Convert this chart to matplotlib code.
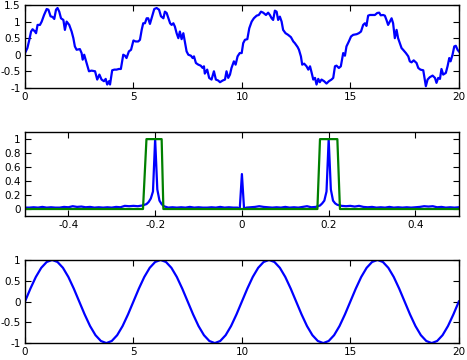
import numpy as np
import matplotlib
matplotlib.use('Agg')
import matplotlib.pyplot as plt
from matplotlib.ticker import FormatStrFormatter

# noisy signal
t_noisy = [0.0, 0.11, 0.2, 0.28, 0.35, 0.46, 0.51, 0.58, 0.69, 0.77, 0.88, 1.0, 1.08, 1.18, 1.27, 1.35,
           1.43, 1.5, 1.58, 1.66, 1.77, 1.84, 1.92, 2.04, 2.15, 2.23, 2.3, 2.38, 2.53, 2.61, 2.66, 2.73,
           2.84, 2.95, 3.07, 3.23, 3.33, 3.43, 3.53, 3.64, 3.72, 3.79, 3.87, 3.92,
           4.02, 4.12, 4.22, 4.33, 4.42, 4.53, 4.61, 4.68, 4.79, 4.89, 5.0, 5.1, 5.22, 5.3, 5.38, 5.45,
           5.53, 5.61, 5.68, 5.76, 5.87, 5.96, 6.07, 6.18, 6.27, 6.38, 6.45, 6.53, 6.61, 6.69, 6.76, 6.84,
           6.91, 6.99, 7.07, 7.14, 7.22, 7.3, 7.37, 7.45, 7.53,
           7.65, 7.73, 7.79, 7.88, 7.99, 8.1, 8.19, 8.25, 8.29, 8.4, 8.49, 8.6, 8.71, 8.8, 8.91, 8.99,
           9.11, 9.22, 9.29, 9.37, 9.45, 9.52, 9.63, 9.71, 9.8, 9.9, 9.99, 10.06, 10.14, 10.25, 10.34,
           10.45, 10.55, 10.68, 10.78, 10.88, 10.98, 11.11, 11.21, 11.29, 11.37, 11.44, 11.52, 11.6, 11.67,
           11.75, 11.83, 11.9, 12.01, 12.13, 12.26, 12.37, 12.44, 12.57, 12.63, 12.72, 12.78, 12.87, 12.98,
           13.06, 13.14, 13.21, 13.29, 13.37, 13.44, 13.52, 13.59, 13.67, 13.79, 13.9, 14.01, 14.13, 14.21,
           14.29, 14.36, 14.47, 14.56, 14.67, 14.75, 14.82, 14.93, 15.03, 15.13, 15.29, 15.39, 15.49,
           15.59, 15.67, 15.74, 15.82, 15.9, 16.02, 16.13, 16.24, 16.33, 16.4, 16.51, 16.59, 16.67, 16.74,
           16.82, 16.9, 16.97, 17.05, 17.13, 17.2, 17.28, 17.36, 17.43, 17.56, 17.67, 17.74, 17.82, 17.92,
           18.05, 18.13, 18.23, 18.36, 18.43, 18.48, 18.56, 18.66, 18.79, 18.9, 18.97, 19.05, 19.13, 19.2,
           19.28, 19.4, 19.48, 19.56, 19.62, 19.71, 19.79, 19.86, 19.94, 20.0]
y_noisy = [0.05, 0.2, 0.45, 0.7, 0.77, 0.7, 0.65, 0.9, 0.9, 1.0, 1.2, 1.38, 1.36, 1.16, 1.14, 1.08,
           1.36, 1.41, 1.3, 1.1, 1.05, 0.75, 1.0, 0.9, 0.7, 0.5, 0.25, 0.15, 0.17, 0.05, -0.15, 0.0,
           -0.25, -0.5, -0.48, -0.5, -0.75, -0.6, -0.75, -0.8, -0.73, -0.9, -0.8, -0.9,
           -0.47, -0.45, -0.45, -0.43, -0.43, 0.0, -0.03, -0.1, 0.1, 0.15, 0.43, 0.4, 0.4, 0.45, 0.75, 0.95,
           0.95, 1.1, 1.1, 0.93, 1.18, 1.38, 1.41, 1.36, 1.16, 1.1, 1.3, 1.26, 1.1, 0.95, 0.9, 0.95,
           0.85, 0.65, 0.5, 0.7, 0.47, 0.65, 0.4, 0.1, 0.0,
           -0.03, -0.1, -0.05, -0.25, -0.3, -0.33, -0.4, -0.35, -0.57, -0.45, -0.7, -0.75, -0.5, -0.75, -0.78, -0.83,
           -0.78, -0.75, -0.5, -0.7, -0.6, -0.4, -0.2, -0.3, -0.05, 0.05, 0.05, 0.35, 0.45, 0.47, 0.8,
           1.0, 1.1, 1.18, 1.2, 1.3, 1.27, 1.2, 1.27, 1.2, 1.1, 1.05, 1.33, 1.3, 1.05,
           1.15, 1.0, 0.75, 0.65, 0.6, 0.53, 0.4, 0.35, 0.23, 0.15, -0.05, -0.3, -0.27, -0.35,
           -0.45, -0.35, -0.53, -0.75, -0.7, -0.9, -0.73, -0.83, -0.75, -0.8, -0.87, -0.8, -0.75, -0.7,
           -0.35, -0.33, -0.4, -0.35, 0.05, -0.03, 0.25, 0.4, 0.55, 0.6, 0.62, 0.65, 0.7,
           0.9, 0.95, 0.87, 1.18, 1.2, 1.2, 1.2, 1.26, 1.27, 1.19, 1.2, 1.18, 1.04, 0.9,
           1.0, 1.1, 0.95, 0.5, 0.75, 0.5, 0.35, 0.2, 0.15, 0.05, -0.05, -0.2, -0.23, -0.17,
           -0.25, -0.4, -0.45, -0.47, -0.75, -0.95, -0.75, -0.68, -0.63, -0.7, -0.85, -0.7, -0.73, -0.43,
           -0.6, -0.55, -0.35, -0.1, -0.2, 0.0, 0.25, 0.27, 0.15, 0.1]

# spectrum
freq = [-0.5, -0.49, -0.48, -0.47, -0.46, -0.45, -0.44, -0.43, -0.42, -0.41, -0.4, -0.39, -0.38, -0.37,
        -0.36, -0.35, -0.34, -0.33, -0.32, -0.31, -0.3, -0.29, -0.28, -0.27, -0.26, -0.25, -0.24, -0.23,
        -0.22, -0.215, -0.21, -0.205, -0.2, -0.195, -0.19, -0.185, -0.18, -0.17, -0.16, -0.15, -0.14,
        -0.13, -0.12, -0.11, -0.1, -0.09, -0.08, -0.07, -0.06, -0.05, -0.04, -0.03, -0.02, -0.01, -0.005,
        0.0, 0.005, 0.01, 0.02, 0.03, 0.04, 0.05, 0.06, 0.07, 0.08, 0.09, 0.1, 0.11, 0.12, 0.13, 0.14,
        0.15, 0.16, 0.17, 0.18, 0.185, 0.19, 0.195, 0.2, 0.205, 0.21, 0.215, 0.22, 0.23, 0.24, 0.25,
        0.26, 0.27, 0.28, 0.29, 0.3, 0.31, 0.32, 0.33, 0.34, 0.35, 0.36, 0.37, 0.38, 0.39, 0.4, 0.41,
        0.42, 0.43, 0.44, 0.45, 0.46, 0.47, 0.48, 0.49, 0.5]
amp = [0.02, 0.02, 0.025, 0.02, 0.03, 0.02, 0.025, 0.02, 0.02, 0.03, 0.025, 0.04, 0.03, 0.035,
       0.025, 0.03, 0.02, 0.025, 0.02, 0.025, 0.02, 0.03, 0.025, 0.045, 0.04, 0.045, 0.04, 0.05,
       0.07, 0.1, 0.15, 0.25, 1.0, 0.28, 0.12, 0.07, 0.04, 0.02, 0.025, 0.02, 0.025,
       0.02, 0.03, 0.02, 0.025, 0.02, 0.02, 0.025, 0.02, 0.03, 0.02, 0.025, 0.02, 0.02, 0.0,
       0.5, 0.0, 0.02, 0.025, 0.03, 0.04, 0.03, 0.025, 0.02, 0.025, 0.02, 0.03, 0.02, 0.025, 0.02, 0.03,
       0.04, 0.025, 0.03, 0.05, 0.08, 0.12, 0.25, 1.0, 0.28, 0.12, 0.08, 0.06, 0.045, 0.04, 0.045,
       0.035, 0.045, 0.03, 0.025, 0.03, 0.02, 0.025, 0.02, 0.03, 0.02, 0.025, 0.02, 0.025, 0.02, 0.025, 0.03,
       0.04, 0.035, 0.04, 0.025, 0.03, 0.02, 0.025, 0.02, 0.025]

# band-pass mask
mask_f = [-0.5, -0.228, -0.22, -0.185, -0.181, 0.174, 0.18, 0.22, 0.226, 0.5]
mask_v = [0, 0, 1, 1, 0, 0, 1, 1, 0, 0]

# filtered signal
t_clean = [i * 0.25 for i in range(81)]
y_clean = [0.0, 0.31, 0.59, 0.81, 0.95, 1.0, 0.95, 0.81, 0.59, 0.31,
           0.0, -0.31, -0.59, -0.81, -0.95, -1.0, -0.95, -0.81, -0.59, -0.31,
           0.0, 0.31, 0.59, 0.81, 0.95, 1.0, 0.95, 0.81, 0.59, 0.31,
           0.0, -0.31, -0.59, -0.81, -0.95, -1.0, -0.95, -0.81, -0.59, -0.31,
           0.0, 0.31, 0.59, 0.81, 0.95, 1.0, 0.95, 0.81, 0.59, 0.31,
           0.0, -0.31, -0.59, -0.81, -0.95, -1.0, -0.95, -0.81, -0.59, -0.31,
           0.0, 0.31, 0.59, 0.81, 0.95, 1.0, 0.95, 0.81, 0.59, 0.31,
           0.0, -0.31, -0.59, -0.81, -0.95, -1.0, -0.95, -0.81, -0.59, -0.31,
           0.0]

plt.rcParams['axes.unicode_minus'] = False
plt.rcParams['font.size'] = 7.5

fig = plt.figure(figsize=(4.67, 3.6), dpi=100)
ax1 = fig.add_axes([0.0535, 0.756, 0.929, 0.230])
ax2 = fig.add_axes([0.0535, 0.400, 0.929, 0.233])
ax3 = fig.add_axes([0.0535, 0.047, 0.929, 0.231])

ax1.plot(t_noisy, y_noisy, color='#0000ff', lw=1.6)
ax1.set_xlim(0, 20)
ax1.set_ylim(-1, 1.5)
ax1.set_xticks([0, 5, 10, 15, 20])
ax1.set_yticks([-1, -0.5, 0, 0.5, 1, 1.5])

ax2.plot(freq, amp, color='#0000ff', lw=1.6)
ax2.plot(mask_f, mask_v, color='#008000', lw=1.6)
ax2.set_xlim(-0.5, 0.5)
ax2.set_ylim(-0.1, 1.1)
ax2.set_xticks([-0.4, -0.2, 0, 0.2, 0.4])
ax2.set_yticks([0, 0.2, 0.4, 0.6, 0.8, 1])

ax3.plot(t_clean, y_clean, color='#0000ff', lw=1.6)
ax3.set_xlim(0, 20)
ax3.set_ylim(-1, 1)
ax3.set_xticks([0, 5, 10, 15, 20])
ax3.set_yticks([-1, -0.5, 0, 0.5, 1])

for ax in (ax1, ax2, ax3):
    ax.tick_params(direction='in', top=True, right=True, length=4, width=0.8, pad=3, labelsize=7.5)
    ax.xaxis.set_major_formatter(FormatStrFormatter('%g'))
    ax.yaxis.set_major_formatter(FormatStrFormatter('%g'))
    for s in ax.spines.values():
        s.set_linewidth(1.0)

fig.savefig('out.png', dpi=100)
